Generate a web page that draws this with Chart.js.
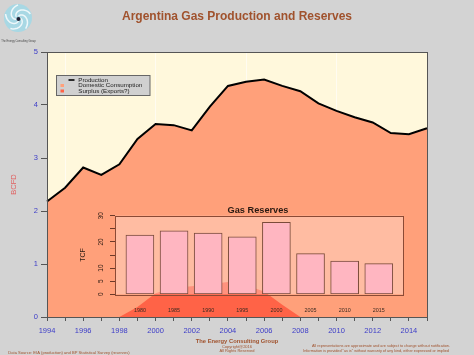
<!DOCTYPE html>
<html>
<head>
<meta charset="utf-8">
<script src="https://cdn.jsdelivr.net/npm/chart.js@4.4.1/dist/chart.umd.min.js"></script>
<style>
  html, body { margin:0; padding:0; background:#D3D3D3; }
  #wrap { position:relative; width:474px; height:355px; overflow:hidden; }
  #main { position:absolute; left:0; top:0; }
  #inset { position:absolute; left:75px; top:196px; }
</style>
</head>
<body>
<div id="wrap">
  <canvas id="main" width="474" height="355"></canvas>
  <canvas id="inset" width="340" height="124"></canvas>
</div>
<script>
// ---- data ----
const years = [1994,1995,1996,1997,1998,1999,2000,2001,2002,2003,2004,2005,2006,2007,2008,2009,2010,2011,2012,2013,2014,2015];
const production = [2.18,2.44,2.82,2.68,2.88,3.36,3.64,3.62,3.52,3.97,4.36,4.44,4.48,4.36,4.26,4.03,3.89,3.77,3.67,3.47,3.45,3.56];
const surplus = [0,0,0,0,0,0.19,0.45,0.55,0.58,0.62,0.66,0.60,0.48,0.23,0,0,0,0,0,0,0,0];
const yTicks = [0,1,2,3,4,5];
const reserveYears = ['1980','1985','1990','1995','2000','2005','2010','2015'];
const reserves = [22.6,24.2,23.4,21.9,27.5,15.5,12.7,11.7];
const reserveTickLabels = [0,5,10,20,30];

const FONT = "'Liberation Sans', Arial, sans-serif";
Chart.defaults.font.family = FONT;

const SIENNA = '#A0522D';
const BLUE = '#3C3CC8';

const decorPlugin = {
  id: 'decor',
  beforeDraw(chart) {
    const {ctx, chartArea: a} = chart;
    ctx.save();
    ctx.fillStyle = '#FFF8DC';
    ctx.fillRect(a.left, a.top, a.right - a.left, a.bottom - a.top);
    ctx.restore();
  },
  afterDraw(chart) {
    const {ctx, chartArea: a} = chart;
    ctx.save();
    // plot box
    ctx.strokeStyle = '#555';
    ctx.lineWidth = 1;
    ctx.strokeRect(Math.round(a.left) + 0.5, Math.round(a.top) + 0.5, Math.round(a.right - a.left), Math.round(a.bottom - a.top));

    // legend
    ctx.fillStyle = '#D0D0D0';
    ctx.fillRect(56.5, 75, 93.5, 20);
    ctx.strokeStyle = '#666';
    ctx.strokeRect(56.5, 75.5, 93.5, 20);
    ctx.strokeStyle = '#000';
    ctx.lineWidth = 1.6;
    ctx.beginPath(); ctx.moveTo(68.5, 80); ctx.lineTo(74.5, 80); ctx.stroke();
    ctx.fillStyle = '#FFA07A'; ctx.fillRect(60.5, 84, 3.5, 3);
    ctx.fillStyle = '#FF6347'; ctx.fillRect(60.5, 89.5, 3.5, 3);
    ctx.fillStyle = '#222';
    ctx.font = '6.2px ' + FONT;
    ctx.textBaseline = 'middle';
    ctx.textAlign = 'left';
    ctx.fillText('Production', 78.3, 80);
    ctx.fillText('Domestic Consumption', 78.3, 85.4);
    ctx.fillText('Surplus (Exports?)', 78.3, 90.8);

    // logo
    ctx.fillStyle = '#A8D8E4';
    ctx.beginPath(); ctx.arc(18, 18, 14, 0, Math.PI * 2); ctx.fill();
    ctx.strokeStyle = 'rgba(255,255,255,0.8)';
    ctx.lineWidth = 1.5;
    for (let k = 0; k < 5; k++) {
      const base = k * Math.PI * 2 / 5;
      ctx.beginPath();
      for (let t = 0; t <= 1.0001; t += 0.05) {
        const r = 2 + 11 * t;
        const ang = base + t * 2.2;
        const px = 18 + r * Math.cos(ang), py = 18 + r * Math.sin(ang);
        if (t === 0) ctx.moveTo(px, py); else ctx.lineTo(px, py);
      }
      ctx.stroke();
    }
    ctx.fillStyle = '#223';
    ctx.beginPath(); ctx.arc(18.5, 19, 2, 0, Math.PI * 2); ctx.fill();
    ctx.fillStyle = '#444';
    ctx.font = '2.6px ' + FONT;
    ctx.textAlign = 'center';
    ctx.fillText('The Energy Consulting Group', 18.5, 41);

    // footer
    ctx.fillStyle = SIENNA;
    ctx.font = 'bold 5.8px ' + FONT;
    ctx.fillText('The Energy Consulting Group', 237, 341);
    ctx.font = '4px ' + FONT;
    ctx.fillText('Copyright@2016', 237, 346.5);
    ctx.fillText('All Rights Reserved', 237, 351);
    ctx.font = '3.8px ' + FONT;
    ctx.fillText('All representations are approximate and are subject to change without notification.', 381, 346);
    ctx.fillText('Information is provided "as is" without warranty of any kind, either expressed or implied', 376, 350.7);
    ctx.textAlign = 'left';
    ctx.font = '4.1px ' + FONT;
    ctx.fillText('Data Source: EIA (production) and BP Statistical Survey (reserves)', 8.3, 352.5);
    ctx.restore();
  }
};

new Chart(document.getElementById('main'), {
  type: 'line',
  data: {
    labels: years,
    datasets: [
      {
        label: 'Surplus (Exports?)',
        data: surplus,
        borderWidth: 0,
        borderColor: 'rgba(0,0,0,0)',
        backgroundColor: '#FF6347',
        fill: 'origin',
        pointRadius: 0,
        tension: 0
      },
      {
        label: 'Production',
        data: production,
        borderColor: '#000',
        borderWidth: 2,
        backgroundColor: '#FFA07A',
        fill: 'origin',
        pointRadius: 0,
        tension: 0
      }
    ]
  },
  options: {
    responsive: false,
    animation: false,
    layout: { padding: { left: 0, right: 47, top: 0, bottom: 0 } },
    plugins: {
      legend: { display: false },
      tooltip: { enabled: false },
      title: {
        display: true,
        fullSize: false,
        text: 'Argentina Gas Production and Reserves',
        color: SIENNA,
        font: { size: 12, weight: 'bold', family: FONT },
        padding: { top: 9, bottom: 28.6 }
      }
    },
    scales: {
      x: {
        type: 'category',
        offset: false,
        afterFit(s) { s.height = 38; },
        border: { display: false },
        grid: {
          offset: false,
          drawOnChartArea: true,
          color: (c) => (c.index !== undefined && years[c.index] % 5 === 0) ? 'rgba(255,255,255,0.6)' : 'rgba(0,0,0,0)',
          tickColor: '#555',
          tickLength: 4,
          lineWidth: 1
        },
        ticks: {
          autoSkip: false,
          maxRotation: 0,
          minRotation: 0,
          padding: 5,
          color: BLUE,
          font: { size: 7.5, family: FONT },
          callback: (v, i) => (years[i] % 2 === 0 && years[i] <= 2014) ? String(years[i]) : ''
        }
      },
      y: {
        min: 0,
        max: 5,
        afterFit(s) { s.width = 47; },
        afterBuildTicks(s) { s.ticks = yTicks.map(v => ({ value: v })); },
        border: { display: false },
        grid: { drawOnChartArea: false, tickColor: '#555', tickLength: 6 },
        ticks: { color: BLUE, padding: 3, font: { size: 7.5, family: FONT } },
        title: {
          display: true,
          text: 'BCFD',
          color: '#E06060',
          font: { size: 7.6, family: FONT },
          padding: { top: 9.4, bottom: 0 }
        }
      }
    }
  },
  plugins: [decorPlugin]
});

const insetPlugin = {
  id: 'insetDecor',
  beforeDraw(chart) {
    const {ctx, chartArea: a} = chart;
    ctx.save();
    ctx.fillStyle = 'rgba(255,255,255,0.3)';
    ctx.fillRect(a.left, a.top, a.right - a.left, a.bottom - a.top);
    ctx.restore();
  },
  afterDraw(chart) {
    const {ctx, chartArea: a} = chart;
    ctx.save();
    ctx.strokeStyle = '#8B4A35';
    ctx.lineWidth = 1;
    ctx.strokeRect(Math.round(a.left) + 0.5, Math.round(a.top) + 0.5, Math.round(a.right - a.left), Math.round(a.bottom - a.top));
    ctx.fillStyle = '#2A1A12';
    ctx.font = 'bold 9.2px ' + FONT;
    ctx.textAlign = 'center';
    ctx.textBaseline = 'middle';
    ctx.fillText('Gas Reserves', 183, 14);
    ctx.restore();
  }
};

new Chart(document.getElementById('inset'), {
  type: 'bar',
  data: {
    datasets: [{
      label: 'Gas Reserves',
      data: reserves.map((v, i) => ({ x: i, y: v })),
      backgroundColor: '#FFB6C1',
      borderColor: '#7B4B3A',
      borderWidth: 1,
      borderSkipped: false,
      barThickness: 28
    }]
  },
  options: {
    responsive: false,
    animation: false,
    layout: { padding: { left: 0, right: 12, top: 19.7, bottom: 0 } },
    plugins: { legend: { display: false }, tooltip: { enabled: false } },
    scales: {
      x: {
        type: 'linear',
        offset: false,
        min: -0.73,
        max: 7.71,
        afterFit(s) { s.height = 25.7; },
        afterBuildTicks(s) { s.ticks = reserveYears.map((_, i) => ({ value: i })); },
        border: { display: false },
        grid: { display: false, drawTicks: false, offset: false },
        ticks: {
          autoSkip: false,
          maxRotation: 0,
          padding: 13,
          color: '#3A2A20',
          font: { size: 5.4, family: FONT },
          callback: (v) => reserveYears[v] !== undefined ? reserveYears[v] : ''
        }
      },
      y: {
        min: 0,
        max: 30,
        afterFit(s) { s.width = 40; },
        afterBuildTicks(s) { s.ticks = [0,5,10,15,20,25,30].map(v => ({ value: v })); },
        border: { display: false },
        grid: { drawOnChartArea: false, tickColor: '#6B3A2A', tickLength: 5 },
        ticks: {
          minRotation: 90,
          maxRotation: 90,
          crossAlign: 'center',
          padding: 5,
          color: '#2A1A12',
          font: { size: 6.5, family: FONT },
          callback: (v) => reserveTickLabels.includes(v) ? String(v) : ''
        },
        title: {
          display: true,
          text: 'TCF',
          color: '#2A1A12',
          font: { size: 7, family: FONT },
          padding: { top: 4, bottom: 0 }
        }
      }
    }
  },
  plugins: [insetPlugin]
});
</script>
</body>
</html>
